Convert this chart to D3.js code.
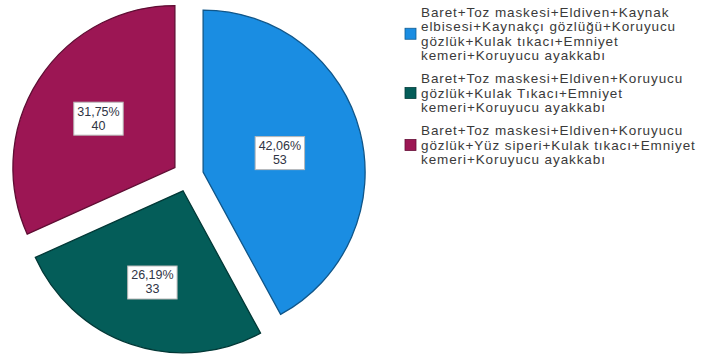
<!DOCTYPE html>
<html>
<head>
<meta charset="utf-8">
<script src="https://cdn.jsdelivr.net/npm/d3@7/dist/d3.min.js"></script>
<style>
  html, body { margin: 0; padding: 0; background: #fff; }
  svg { display: block; }
</style>
</head>
<body>
<svg id="chart" width="703" height="355"></svg>
<script>
// Equipment combinations (legend text, already broken into lines)
const categories = [
  ["Baret+Toz maskesi+Eldiven+Kaynak", "elbisesi+Kaynakçı gözlüğü+Koruyucu", "gözlük+Kulak tıkacı+Emniyet", "kemeri+Koruyucu ayakkabı"],
  ["Baret+Toz maskesi+Eldiven+Koruyucu", "gözlük+Kulak Tıkacı+Emniyet", "kemeri+Koruyucu ayakkabı"],
  ["Baret+Toz maskesi+Eldiven+Koruyucu", "gözlük+Yüz siperi+Kulak tıkacı+Emniyet", "kemeri+Koruyucu ayakkabı"]
];
const counts = [53, 33, 40];
const colors = ["#1a8de2", "#045d59", "#9c1654"];

const svg = d3.select("#chart");
const total = d3.sum(counts);
const fmtPct = v => (v * 100).toFixed(2).replace(".", ",") + "%";

const cx = 188, cy = 176, R = 162, explode = 15.6;

const pie = d3.pie().sort(null).value(d => d.count);
const arcs = pie(counts.map((c, i) => ({ count: c, i })));
const arc = d3.arc().innerRadius(0).outerRadius(R);

const g = svg.append("g").attr("transform", `translate(${cx},${cy})`);

const slice = g.selectAll("g.slice").data(arcs).join("g")
  .attr("class", "slice")
  .attr("transform", d => {
    const a = (d.startAngle + d.endAngle) / 2;
    return `translate(${explode * Math.sin(a)},${-explode * Math.cos(a)})`;
  });

slice.append("path")
  .attr("d", arc)
  .attr("fill", d => colors[d.data.i])
  .attr("stroke", d => d3.color(colors[d.data.i]).darker(1.4))
  .attr("stroke-width", 1.3)
  .attr("stroke-linejoin", "miter");

// value labels at each sector's centroid
const labelFont = 12.5, lineH = 14;
slice.each(function (d) {
  const half = (d.endAngle - d.startAngle) / 2;
  const mid = d.startAngle + half;
  const dist = 2 * R * Math.sin(half) / (3 * half);
  const x = dist * Math.sin(mid), y = -dist * Math.cos(mid);
  const lg = d3.select(this).append("g").attr("transform", `translate(${x},${y})`);
  const lines = [fmtPct(d.data.count / total), String(d.data.count)];
  const t = lg.append("text")
    .attr("text-anchor", "middle")
    .attr("font-family", "Liberation Sans, Arial, sans-serif")
    .attr("font-size", labelFont)
    .attr("fill", "#2f3444");
  lines.forEach((s, k) => {
    t.append("tspan").attr("x", 0).attr("y", (k - 0.5) * lineH + labelFont * 0.36).text(s);
  });
  const bb = t.node().getBBox();
  lg.insert("rect", "text")
    .attr("x", bb.x - 3.5).attr("y", bb.y - 2.5)
    .attr("width", bb.width + 7).attr("height", bb.height + 5)
    .attr("fill", "#fff").attr("stroke", "#b8b8b8").attr("stroke-width", 1);
});

// legend
const legend = svg.append("g").attr("transform", "translate(405,0)");
const legLine = 14.5, legGap = 23;
let yTop = 12;
categories.forEach((lines, i) => {
  const gi = legend.append("g");
  const t = gi.append("text")
    .attr("font-family", "Liberation Sans, Arial, sans-serif")
    .attr("font-size", 13.5)
    .attr("letter-spacing", 0.9)
    .attr("fill", "#3a3a3a");
  lines.forEach((s, k) => {
    t.append("tspan").attr("x", 16).attr("y", yTop + k * legLine + 4.8).text(s);
  });
  const centerY = yTop + (lines.length - 1) * legLine / 2;
  gi.append("rect")
    .attr("x", 0).attr("y", centerY - 5.5)
    .attr("width", 11).attr("height", 11)
    .attr("fill", colors[i])
    .attr("stroke", d3.color(colors[i]).darker(1.2)).attr("stroke-width", 0.8);
  yTop += (lines.length - 1) * legLine + legGap;
});
</script>
</body>
</html>
